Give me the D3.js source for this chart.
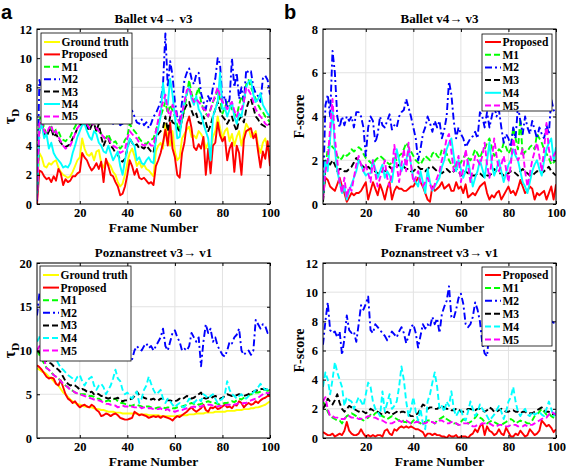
<!DOCTYPE html>
<html><head><meta charset="utf-8">
<script src="https://cdn.jsdelivr.net/npm/d3@7"></script>
<style>body{margin:0;background:#fff}svg{display:block}</style>
</head><body>
<svg id="c" width="566" height="468"></svg>
<script>
// ---------- DATA (frames 2..100) ----------
const frames = d3.range(2, 101);
const xTicks = [20, 40, 60, 80, 100];
const legendA = ["Ground truth", "Proposed", "M1", "M2", "M3", "M4", "M5"];
const legendB = ["Proposed", "M1", "M2", "M3", "M4", "M5"];

// Panel a: Ballet v4->v3, tau_D
const a_GT = [1.0,3.5,3.2,2.6,2.5,2.8,2.7,2.9,3.0,2.5, 2.2,2.0,1.9,1.8,1.9,2.2,2.6,3.0,3.2,4.5, 3.8,3.4,3.3,3.5,3.0,3.6,3.7,2.8,2.5,3.0, 2.8,2.6,2.2,2.0,1.5,1.2,1.4,2.0,2.8,3.5, 3.8,3.3,2.6,2.9,2.5,2.7,2.4,2.3,2.1,1.9, 3.6,4.0,4.2,3.8,5.5,4.5,4.0,5.0,3.6,3.0, 3.2,4.5,4.8,5.1,5.3,4.6,4.7,4.5,5.0,4.8, 4.5,3.8,4.2,3.5,4.6,5.0,6.0,5.2,4.5,5.0, 5.2,4.3,4.8,4.0,4.6,5.0,4.0,4.8,5.5,5.2, 4.6,4.8,5.0,4.0,3.5,4.2,4.5,3.8,3.5];
const a_Prop = [0.0,2.3,2.2,1.9,1.7,1.8,1.5,1.9,1.6,2.4, 2.1,1.3,1.7,1.5,1.6,1.9,1.9,2.1,2.2,3.5, 3.2,3.0,2.6,2.3,2.5,2.8,2.4,2.9,1.5,3.1, 2.6,2.0,1.9,1.5,1.2,0.6,0.7,1.2,2.0,3.0, 2.6,2.0,2.4,1.8,1.7,1.8,1.6,1.4,1.5,1.3, 2.6,3.0,3.5,4.2,5.1,4.0,5.6,3.8,3.2,2.0, 1.8,3.5,4.2,5.5,6.0,5.2,3.9,3.7,4.1,3.8, 4.6,2.0,3.8,2.1,4.0,4.2,5.6,4.7,4.3,4.6, 3.0,3.8,4.2,2.2,4.0,3.5,2.0,4.4,5.0,5.1, 5.2,4.5,4.8,3.6,2.5,3.6,3.1,4.3,2.6];
const a_M1 = [0.8,5.8,6.0,5.2,4.8,5.0,5.3,4.9,5.1,5.0, 4.6,4.4,4.3,4.5,4.6,5.0,5.3,5.6,5.5,5.9, 6.0,5.6,5.4,5.8,5.5,5.0,5.2,4.8,4.6,4.5, 4.8,4.4,4.2,4.3,4.0,3.8,4.0,4.4,4.6,5.5, 5.2,5.0,4.8,4.5,4.3,4.2,4.1,4.3,4.4,4.5, 5.0,5.6,6.0,6.5,7.0,6.2,6.8,6.4,6.0,5.4, 5.0,5.8,6.5,7.5,8.5,7.6,7.0,7.5,8.0,7.0, 6.5,6.2,6.0,6.5,7.0,7.3,7.8,7.2,6.2,6.6, 7.0,6.8,6.5,6.2,6.0,6.8,7.4,7.0,8.2,8.5, 8.0,7.6,7.2,6.8,6.5,6.3,6.0,5.8,5.6];
const a_M2 = [0.2,8.5,7.8,7.0,7.5,7.0,6.8,7.2,7.0,6.5, 6.8,6.5,6.2,6.5,6.6,6.8,6.5,6.2,6.0,6.3, 6.5,6.2,6.0,6.4,6.2,6.0,5.8,5.9,5.6,5.8, 5.8,5.6,5.5,5.7,5.6,5.4,5.5,5.8,6.0,6.2, 6.4,6.0,5.6,5.5,5.8,5.4,5.6,5.2,5.5,6.0, 6.2,6.6,7.0,8.2,11.7,8.0,9.8,8.8,7.0,6.0, 5.5,7.0,8.5,9.0,9.3,8.6,8.2,8.9,9.0,7.6, 7.0,6.5,7.4,7.0,8.0,8.6,10.0,9.6,7.0,7.4, 6.6,7.2,10.0,8.0,9.0,7.2,8.0,7.0,9.2,9.0, 9.1,8.0,7.6,7.4,7.0,8.6,8.8,8.5,7.5];
const a_M3 = [0.5,5.0,5.5,4.8,4.6,5.0,5.2,4.6,4.8,4.5, 4.2,4.0,3.9,4.0,4.1,4.5,4.8,5.2,5.4,5.5, 5.6,5.3,5.0,5.4,5.5,5.0,5.5,4.6,4.0,4.4, 4.5,4.0,3.8,3.5,3.4,3.0,2.9,3.1,3.8,4.5, 4.2,4.0,4.1,3.8,3.9,3.8,4.0,3.8,3.6,3.5, 4.5,4.8,5.0,5.2,6.0,5.0,6.0,5.6,5.5,5.2, 5.0,5.8,6.5,6.8,7.0,6.4,6.0,6.2,5.6,5.5, 6.0,5.6,5.0,5.4,6.0,6.5,7.0,6.4,6.0,5.8, 5.5,5.8,6.0,5.4,5.0,5.8,6.0,5.6,6.5,7.0, 7.2,6.6,6.0,5.8,5.5,5.4,5.3,5.4,5.5];
const a_M4 = [0.5,5.0,5.5,4.5,4.8,3.8,4.2,3.5,3.2,3.0, 2.8,2.5,2.6,2.5,2.8,3.5,4.0,4.6,5.0,5.4, 5.5,5.0,4.6,4.4,5.0,4.8,4.2,4.0,3.6,3.5, 4.0,3.5,3.0,3.3,3.6,2.6,2.0,3.0,3.8,4.5, 4.2,4.0,3.0,3.2,2.8,2.7,3.0,3.2,2.9,2.8, 4.5,5.2,6.0,8.3,7.0,6.8,8.6,7.5,6.0,4.5, 4.6,6.0,7.0,7.6,8.0,7.2,6.8,7.4,6.5,6.2, 5.5,5.0,4.5,3.0,6.0,6.5,7.0,9.0,6.5,6.6, 6.0,6.5,7.0,6.0,5.5,6.2,6.0,7.0,8.0,8.4, 8.5,7.5,7.0,7.2,7.6,6.8,6.5,6.2,6.0];
const a_M5 = [0.3,5.5,5.8,5.0,4.8,5.2,5.4,4.8,5.0,4.6, 4.3,4.0,3.8,3.9,4.0,4.4,4.8,5.2,5.4,5.6, 5.8,5.5,5.2,5.4,5.6,5.2,5.0,4.8,4.6,4.4, 4.5,4.2,4.0,3.9,3.8,3.5,3.6,3.7,4.5,5.0, 4.8,4.6,4.5,4.2,4.1,4.0,4.1,4.2,4.0,4.0, 5.0,5.8,6.5,7.0,7.5,6.4,6.0,6.8,6.5,6.0, 5.5,6.2,7.0,7.8,8.0,7.4,7.0,7.2,7.0,6.8, 6.5,6.4,6.0,6.5,7.0,7.5,8.0,7.4,7.0,6.8, 6.5,6.8,7.0,6.4,6.0,6.5,6.5,7.0,8.0,7.8, 7.5,7.0,6.5,6.2,6.0,5.8,5.5,5.4,5.3];

// Panel b: Ballet v4->v3, F-score
const b_Prop = [0.3,1.2,1.1,0.8,0.7,0.6,0.9,1.2,0.8,0.5, 0.1,0.3,0.5,0.4,0.5,0.5,0.6,0.8,1.0,0.2, 0.6,1.0,0.7,0.4,0.9,0.6,0.2,0.7,1.0,0.2, 0.6,0.8,0.7,0.7,0.6,0.6,0.7,0.8,0.8,1.0, 1.2,1.0,0.8,0.5,0.2,0.1,0.8,0.6,0.7,0.8, 1.0,0.7,0.8,0.9,0.6,0.6,1.0,0.7,0.8,0.5, 0.9,0.3,0.4,0.5,0.4,0.6,0.8,0.9,1.0,0.5, 0.2,0.4,0.3,0.5,0.6,0.2,0.4,0.6,0.8,0.5, 0.6,0.4,0.7,1.1,0.8,0.5,0.6,0.8,0.7,0.2, 0.5,0.4,0.5,0.6,0.2,0.5,0.8,0.2,0.9];
const b_M1 = [0.1,1.8,2.5,2.8,2.6,2.5,2.2,2.0,2.1,2.3, 2.2,2.3,2.5,2.4,2.5,2.6,2.5,2.3,2.1,2.0, 1.9,1.8,2.0,2.1,2.2,2.1,2.0,1.9,1.8,1.9, 2.1,2.0,2.2,2.3,2.5,2.8,2.6,2.4,2.2,2.0, 1.9,1.8,2.0,2.2,2.1,2.0,2.3,2.4,2.2,2.1, 2.5,2.4,2.3,2.0,1.8,1.7,1.8,1.7,1.9,2.1, 2.3,2.1,2.0,2.2,2.5,2.3,2.1,2.4,2.5,2.8, 3.0,2.6,2.2,2.3,2.5,2.4,2.8,2.6,2.3,2.5, 3.5,3.0,2.5,3.9,2.2,2.4,2.4,2.6,2.7,2.5, 3.2,3.0,2.8,2.5,2.3,2.1,1.8,1.9,2.0];
const b_M2 = [0.3,4.5,5.0,4.0,7.0,6.0,4.0,3.5,4.0,3.6, 4.0,3.8,4.0,3.5,4.2,4.2,4.0,3.5,2.2,3.5, 4.0,3.8,2.8,3.2,4.0,3.6,3.5,3.8,4.1,3.4, 3.6,3.5,4.0,4.2,4.3,4.8,4.4,4.0,3.5,3.0, 2.0,2.5,3.2,3.5,4.0,3.7,3.3,3.8,3.5,3.8, 3.0,3.4,4.0,5.6,5.0,3.8,3.0,3.5,3.2,3.0, 2.6,2.8,3.0,3.1,3.3,3.0,4.2,4.0,3.5,4.2, 3.5,4.0,4.5,4.0,4.3,3.5,2.8,3.2,3.0,2.6, 3.5,3.0,4.5,3.8,3.2,4.0,3.5,3.2,3.8,3.4, 3.0,3.5,3.2,3.0,3.6,3.2,4.8,4.3,4.1];
const b_M3 = [0.1,1.7,2.0,1.8,2.0,1.8,1.5,1.6,1.6,1.5, 1.5,1.6,1.7,1.9,2.1,2.0,1.8,1.7,1.6,1.7, 1.6,1.5,1.5,1.4,1.4,1.5,1.5,1.6,1.7,1.6, 1.6,1.7,1.8,1.7,1.7,1.6,1.6,1.5,1.5,1.6, 1.7,1.6,1.6,1.5,1.6,1.7,1.7,1.6,1.5,1.5, 1.4,1.5,1.6,1.5,1.4,1.5,1.6,1.5,1.3,1.4, 1.5,1.4,1.4,1.3,1.3,1.4,1.4,1.3,1.2,1.3, 1.3,1.4,1.6,1.5,1.4,1.4,1.3,1.4,1.4,1.5, 1.5,1.4,1.3,1.5,1.6,1.5,1.4,1.3,1.3,1.4, 1.5,1.5,1.4,1.5,1.6,1.7,1.5,1.4,1.3];
const b_M4 = [0.3,2.0,1.5,3.0,4.4,2.5,1.5,1.0,0.5,0.8, 0.2,0.6,0.9,1.2,1.5,2.0,1.8,1.5,1.3,1.4, 1.4,2.0,1.6,1.2,1.5,1.8,1.2,1.5,1.3,1.0, 1.8,2.5,2.0,1.5,1.8,2.0,2.5,1.8,1.2,1.0, 0.8,1.5,1.0,0.5,1.6,1.0,0.6,0.8,1.0,1.2, 1.7,2.0,2.5,2.8,3.0,2.2,1.5,2.0,1.6,1.2, 1.5,2.0,1.4,0.8,1.2,1.5,2.0,1.6,1.2,2.0, 2.8,1.8,1.3,1.6,2.0,1.5,1.0,1.4,1.8,2.0, 2.5,2.2,2.0,1.5,1.0,0.8,0.5,1.0,1.5,1.8, 2.0,1.6,1.3,2.0,2.5,2.8,3.0,2.0,2.6];
const b_M5 = [0.2,1.5,2.0,3.5,4.8,3.0,2.0,1.0,0.5,1.2, 0.3,0.8,0.6,1.2,1.8,2.2,1.8,1.5,1.8,1.4, 1.0,2.0,1.4,0.8,1.2,1.5,2.0,1.2,0.8,1.5, 2.7,1.8,1.0,1.8,2.5,1.5,2.8,1.8,1.0,1.2, 1.5,1.0,0.8,1.0,1.2,0.9,0.6,0.9,1.2,1.5, 2.0,2.4,3.0,3.2,2.4,1.5,1.8,2.2,1.0,1.6, 2.5,1.8,1.0,1.6,2.2,2.0,1.8,2.2,2.8,1.8, 1.2,2.0,3.0,2.2,1.5,1.8,2.2,1.6,1.0,1.8, 3.0,2.4,2.0,2.2,2.5,1.5,0.8,1.4,2.0,2.4, 2.8,2.2,1.5,2.5,3.7,2.5,2.0,2.2,2.4];

// Panel c: Poznanstreet v3->v1, tau_D
const c_GT = [8.0,7.8,7.6,7.5,7.3,7.0,6.8,6.5,6.2,6.0, 5.6,5.2,5.0,4.7,4.4,4.2,4.0,3.9,3.8,3.7, 3.6,3.6,3.5,3.5,3.4,3.3,3.3,3.2,3.2,3.1, 3.0,3.0,3.0,2.9,2.9,2.9,2.8,2.8,2.8,2.8, 2.8,2.8,2.8,2.7,2.7,2.7,2.7,2.6,2.6,2.6, 2.6,2.6,2.5,2.5,2.5,2.5,2.5,2.5,2.5,2.5, 2.6,2.6,2.6,2.6,2.7,2.7,2.7,2.8,2.8,2.8, 2.8,2.9,2.9,2.9,2.9,3.0,3.0,3.0,3.0,3.0, 3.1,3.1,3.1,3.1,3.2,3.2,3.2,3.3,3.3,3.3, 3.4,3.4,3.5,3.5,3.6,3.7,3.8,4.0,4.2];
const c_Prop = [8.3,8.1,7.8,7.4,7.0,6.8,6.9,6.8,6.2,6.0, 6.6,5.8,5.0,4.5,4.3,4.0,4.2,3.8,3.5,3.7, 3.8,3.6,3.5,3.8,3.6,3.2,3.0,2.5,2.6,2.8, 2.7,2.5,2.7,2.8,2.6,2.3,2.2,2.1,2.1,2.2, 2.3,3.0,2.8,2.6,2.7,2.6,2.5,2.3,2.4,2.5, 2.4,2.5,2.3,2.5,2.4,2.3,2.2,2.0,2.3,2.5, 2.4,2.6,2.8,3.0,3.3,3.5,3.2,3.0,3.2,3.4, 3.8,3.2,3.0,3.5,3.4,3.6,3.3,3.4,3.6,3.8, 3.5,3.6,3.4,3.8,3.7,4.2,4.0,3.5,3.8,4.0, 3.8,3.9,4.2,4.0,4.3,4.5,4.6,4.8,4.8];
const c_M1 = [10.0,9.5,9.0,8.5,8.0,7.8,7.5,7.2,7.0,6.8, 6.5,6.2,6.0,5.8,5.5,5.4,5.2,5.1,5.0,5.0, 5.0,4.9,4.8,4.8,4.7,4.5,4.5,4.3,4.2,4.2, 4.3,4.2,4.4,4.5,4.2,4.0,4.0,3.9,3.8,3.7, 3.7,3.8,3.8,3.7,3.6,3.5,3.6,3.6,3.5,3.4, 3.4,3.5,3.5,3.5,3.4,3.5,3.5,3.4,3.4,3.5, 3.5,3.6,3.7,3.8,3.9,4.0,3.9,4.0,3.8,3.9, 4.0,4.1,4.2,4.1,4.0,4.0,3.9,3.8,3.9,4.0, 4.0,4.1,4.2,4.1,4.3,4.5,4.4,4.6,4.8,4.9, 5.0,5.0,5.2,5.2,5.3,5.5,5.5,5.4,5.5];
const c_M2 = [14.0,16.5,17.0,16.5,16.0,15.5,15.0,14.5,14.0,13.5, 13.0,12.8,12.5,12.0,11.8,11.5,11.2,11.0,10.8,10.5, 10.5,10.2,10.0,10.2,9.8,9.8,9.6,9.5,9.6,9.4, 9.5,9.4,9.6,9.5,9.3,9.5,9.4,9.6,9.8,9.5, 9.0,10.0,10.5,10.2,10.0,10.5,10.8,10.3,10.5,10.0, 10.5,11.0,11.5,12.5,10.5,10.0,11.0,12.0,12.3,11.5, 11.0,10.0,10.2,10.0,10.5,12.0,11.5,11.0,11.5,8.2, 11.0,13.0,12.0,12.5,11.0,11.5,10.5,10.0,9.5,9.3, 10.0,11.0,10.8,11.5,11.8,12.5,10.0,9.5,9.8,10.0, 9.5,10.0,13.5,13.0,12.5,13.0,12.8,12.0,12.3];
const c_M3 = [10.0,9.8,9.5,9.0,8.8,8.6,8.5,8.2,8.0,7.8, 7.5,7.0,6.5,6.2,6.0,6.1,6.0,5.8,5.5,5.6, 5.5,5.3,5.2,5.3,5.0,5.1,5.0,4.8,4.8,4.6, 4.5,4.6,4.5,4.5,4.6,4.3,4.2,4.3,4.3,4.4, 4.5,4.8,5.3,4.9,4.8,4.6,4.5,4.5,4.4,4.5, 4.3,4.3,4.5,4.5,4.4,4.3,4.3,4.2,4.2,4.3, 4.5,4.4,4.6,4.8,4.7,4.5,4.6,4.8,5.0,5.2, 4.6,4.5,4.6,4.5,4.7,4.8,4.7,4.5,4.6,4.8, 5.0,4.9,4.8,4.8,4.9,5.0,4.9,4.8,4.9,5.0, 5.2,5.3,5.4,5.5,5.6,5.6,5.6,5.5,5.5];
const c_M4 = [11.0,11.5,12.2,11.5,11.0,10.5,10.0,9.5,9.0,8.5, 8.0,7.8,7.5,7.2,7.0,6.8,6.5,7.0,7.2,6.5, 6.0,6.5,6.8,7.0,6.0,5.5,6.0,6.2,5.8,5.0, 5.5,6.0,6.8,7.8,6.8,6.5,5.5,5.0,5.2,4.8, 4.5,5.0,5.3,4.0,4.5,5.5,6.0,7.0,6.2,5.5, 5.0,5.2,5.5,4.5,4.0,4.5,4.2,3.8,3.5,3.8, 4.0,3.6,3.5,4.0,4.5,4.2,4.0,4.3,4.5,4.2, 5.0,4.8,4.5,4.8,5.0,4.5,4.0,4.3,4.5,5.0, 6.5,5.5,5.0,4.8,4.5,4.8,5.0,4.6,4.5,4.8, 5.0,5.2,5.5,5.8,6.2,5.8,5.5,5.6,5.8];
const c_M5 = [10.0,10.5,9.5,9.0,8.0,7.8,7.5,7.2,7.0,6.8, 6.5,6.2,6.0,5.8,5.5,5.4,5.2,5.1,5.0,4.9, 4.8,4.7,4.6,4.5,4.4,4.3,4.3,4.2,4.0,3.9, 3.9,3.8,3.8,3.7,3.5,3.6,3.7,3.6,3.6,3.5, 3.6,3.5,3.5,3.6,3.4,3.5,3.5,3.4,3.4,3.3, 3.3,3.3,3.4,3.2,3.2,3.3,3.1,3.1,3.0,3.1, 3.2,3.2,3.3,3.4,3.5,3.5,3.6,3.5,3.6,3.6, 3.7,3.7,3.8,3.8,3.7,3.6,3.6,3.7,3.6,3.7, 3.8,3.8,3.7,3.8,3.9,4.0,3.9,4.0,4.0,4.2, 4.3,4.4,4.5,4.6,4.8,5.0,5.2,5.1,5.2];

// Panel d: Poznanstreet v3->v1, F-score
const d_Prop = [0.4,0.3,0.2,0.2,0.3,0.1,0.2,0.3,0.2,0.5, 1.1,0.5,0.3,0.2,0.2,0.3,0.6,0.3,0.1,0.2, 0.1,0.2,0.1,0.2,0.2,0.1,0.5,0.6,0.3,0.2, 0.6,0.5,0.7,0.8,0.7,0.8,0.7,0.8,0.7,0.6, 0.6,0.5,0.4,0.1,0.3,0.3,0.2,0.3,0.2,0.2, 0.1,0.1,0.0,0.2,0.1,0.1,0.2,0.0,0.1,0.1, 0.1,0.0,0.2,0.3,0.6,0.4,0.8,1.0,0.2,0.8, 0.5,0.4,0.2,0.3,0.6,0.3,0.2,0.7,0.4,0.1, 0.1,0.3,0.2,0.5,0.3,0.1,0.2,0.6,0.4,0.2, 0.3,0.5,1.2,1.0,0.8,0.9,0.7,0.4,0.6];
const d_M1 = [2.5,2.2,1.8,1.5,1.4,1.3,1.2,1.2,1.0,1.3, 1.5,1.6,1.7,1.6,1.5,1.4,1.3,1.2,1.3,1.4, 1.6,1.5,1.7,1.8,1.6,1.5,1.4,1.3,1.4,1.5, 1.4,1.3,1.2,1.3,1.1,1.1,1.0,1.0,1.2,1.3, 1.1,1.0,1.1,1.1,1.2,1.2,1.1,1.0,1.2,1.3, 1.4,1.5,1.3,1.2,1.1,1.0,1.0,0.9,1.1,1.3, 1.2,1.0,1.1,1.2,1.4,1.6,1.4,1.3,1.1,1.0, 1.1,1.2,1.1,1.0,0.9,0.9,1.0,1.1,1.2,1.3, 1.2,1.0,1.1,1.2,1.1,1.1,1.0,1.0,1.2,1.5, 1.6,1.8,2.0,1.8,1.6,1.7,1.5,1.4,1.3];
const d_M2 = [6.4,8.0,9.3,7.4,7.2,7.3,6.9,7.3,5.7,6.8, 8.4,7.4,7.2,7.3,6.6,7.8,9.1,8.8,9.2,9.7, 7.4,7.2,7.8,7.6,7.4,7.2,7.0,6.7,7.0,7.3, 7.1,6.9,7.3,7.6,7.2,6.5,7.0,7.6,7.8,7.2, 6.2,7.0,7.8,7.5,7.8,7.6,8.3,7.8,8.2,7.2, 8.5,9.0,9.4,10.4,8.3,8.2,8.8,9.6,9.9,9.2, 7.8,7.6,7.8,8.3,9.3,8.8,8.0,6.5,5.8,5.6, 7.4,8.0,8.5,8.2,7.6,8.0,8.6,8.2,7.8,8.4, 8.8,8.2,7.6,8.0,8.5,8.2,7.8,8.4,8.8,8.2, 7.8,8.4,8.8,8.6,9.2,8.6,8.0,7.9,8.1];
const d_M3 = [2.0,2.3,2.7,2.5,2.3,2.6,3.0,2.4,2.0,1.8, 2.0,2.2,2.1,2.0,1.9,1.8,1.9,1.8,1.7,1.8, 2.0,1.9,1.8,1.8,1.7,1.6,1.7,1.8,1.7,1.6, 1.7,1.8,1.7,1.8,1.8,1.7,1.6,1.5,1.5,1.6, 1.7,2.0,2.3,2.2,2.0,2.1,2.1,2.0,2.0,2.1, 2.2,2.1,2.0,2.0,1.9,1.9,2.0,2.0,1.8,1.8, 1.9,2.0,2.0,1.9,1.9,2.0,2.0,1.9,1.8,1.9, 2.1,2.0,1.8,1.8,1.9,2.0,1.9,1.8,1.8,1.9, 1.9,1.8,1.8,1.7,1.8,1.8,1.7,1.7,1.7,1.8, 1.9,2.0,2.1,1.9,1.8,1.8,1.7,1.6,1.6];
const d_M4 = [3.5,4.5,4.0,3.0,4.0,5.2,4.5,4.0,3.5,2.2, 2.8,2.6,2.5,2.0,2.4,2.8,2.5,2.2,3.0,3.8, 3.5,2.5,2.0,1.8,1.5,3.2,1.8,2.4,3.0,2.0, 2.2,2.5,3.5,4.9,4.0,2.5,1.5,2.0,2.8,1.8, 1.2,2.0,1.0,0.6,2.5,3.0,3.8,4.5,3.5,2.0, 2.2,1.8,2.5,2.2,3.2,2.0,1.5,1.8,2.0,1.4, 1.2,1.8,2.5,2.0,1.5,1.8,2.3,2.0,1.8,1.5, 1.2,1.4,1.6,1.9,2.2,1.8,1.3,1.8,2.5,2.8, 3.5,2.5,1.8,1.5,1.8,2.0,1.6,1.5,1.8,1.6, 1.7,1.8,1.6,1.5,2.0,2.5,2.0,1.5,1.8];
const d_M5 = [2.5,2.8,2.0,1.5,1.5,1.4,1.4,1.3,1.3,1.3, 1.5,1.5,1.4,1.4,1.4,1.3,1.3,1.4,1.4,1.5, 1.5,1.4,1.4,1.3,1.2,1.2,1.1,1.0,1.0,1.0, 1.1,1.1,1.2,1.1,1.2,1.2,1.1,1.0,1.0,1.1, 1.1,1.0,1.0,1.0,1.1,1.1,1.1,1.0,1.1,1.2, 1.2,1.1,1.0,1.0,1.1,1.1,1.0,0.9,0.9,1.0, 1.0,1.0,0.9,0.8,0.8,0.9,0.9,1.0,1.0,1.0, 1.0,0.9,0.8,0.8,0.9,0.9,0.8,0.8,0.8,0.9, 0.9,0.9,0.8,0.8,0.8,0.9,0.8,0.9,0.9,1.0, 1.1,1.2,1.3,1.4,1.4,1.6,1.8,1.7,1.6];

// ---------- STYLES ----------
const serif = "'Liberation Serif','Times New Roman',Times,serif";
const sty = {
  "Ground truth": {c: "#ffff00", d: null},
  "Proposed": {c: "#ff0000", d: null},
  "M1": {c: "#00ff00", d: "6,3"},
  "M2": {c: "#0000ff", d: "7,3,2,3"},
  "M3": {c: "#000000", d: "6,3"},
  "M4": {c: "#00ffff", d: null},
  "M5": {c: "#ff00ff", d: "6,3"}
};

const svg = d3.select("#c");
const defs = svg.append("defs");

const panels = [
  {id: "a", box: [37, 270, 29, 204], ymax: 12, yt: d3.range(0, 13, 2), title: "Ballet v4\u2192 v3", ylab: "tau",
   names: legendA, series: [a_GT, a_Prop, a_M1, a_M2, a_M3, a_M4, a_M5], m4dash: false,
   leg: {x: 41, y: 33, w: 91, h: 91, y0: 42, dy: 12.4}},
  {id: "b", box: [323, 556, 29, 204], ymax: 8, yt: d3.range(0, 9, 2), title: "Ballet v4\u2192 v3", ylab: "F-score",
   names: legendB, series: [b_Prop, b_M1, b_M2, b_M3, b_M4, b_M5], m4dash: false,
   leg: {x: 482, y: 34, w: 70, h: 77, y0: 42, dy: 12.7}},
  {id: "c", box: [37, 270, 263, 438], ymax: 20, yt: d3.range(0, 21, 5), title: "Poznanstreet v3\u2192 v1", ylab: "tau",
   names: legendA, series: [c_GT, c_Prop, c_M1, c_M2, c_M3, c_M4, c_M5], m4dash: true,
   leg: {x: 40, y: 266, w: 91, h: 95, y0: 275, dy: 12.6}},
  {id: "d", box: [323, 556, 263, 438], ymax: 12, yt: d3.range(0, 13, 2), title: "Poznanstreet v3\u2192 v1", ylab: "F-score",
   names: legendB, series: [d_Prop, d_M1, d_M2, d_M3, d_M4, d_M5], m4dash: true,
   leg: {x: 482, y: 267, w: 70, h: 79, y0: 275, dy: 12.9}}
];

panels.forEach(p => {
  const [L, R, T, B] = p.box;
  const x = d3.scaleLinear().domain([2, 100]).range([L, R]);
  const y = d3.scaleLinear().domain([0, p.ymax]).range([B, T]);
  const g = svg.append("g");

  // grid
  g.selectAll(null).data(xTicks).join("line")
    .attr("x1", d => x(d)).attr("x2", d => x(d)).attr("y1", T).attr("y2", B)
    .attr("stroke", "#e2e2e2").attr("stroke-width", 1);
  g.selectAll(null).data(p.yt).join("line")
    .attr("x1", L).attr("x2", R).attr("y1", d => y(d)).attr("y2", d => y(d))
    .attr("stroke", "#e2e2e2").attr("stroke-width", 1);

  // clip
  defs.append("clipPath").attr("id", "clip" + p.id)
    .append("rect").attr("x", L).attr("y", T).attr("width", R - L).attr("height", B - T);

  const line = d3.line().x((d, i) => x(frames[i])).y(d => y(d));
  const lg = g.append("g").attr("clip-path", `url(#clip${p.id})`);
  p.names.forEach((n, k) => {
    const s = sty[n];
    const dash = (n === "M4" && p.m4dash) ? "6,3" : s.d;
    lg.append("path").datum(p.series[k]).attr("d", line)
      .attr("fill", "none").attr("stroke", s.c).attr("stroke-width", 1.9)
      .attr("stroke-linejoin", "round")
      .attr("stroke-dasharray", dash);
  });

  // axes
  const fmt = d3.format("d");
  const ax = (gen, tr) => {
    const a = g.append("g").attr("transform", tr).call(gen);
    a.select(".domain").remove();
    a.selectAll("line").attr("stroke", "#000");
    a.selectAll("text").attr("font-family", serif).attr("font-weight", "bold")
      .attr("font-size", 12.5).attr("fill", "#000");
    return a;
  };
  ax(d3.axisBottom(x).tickValues(xTicks).tickSize(-3).tickPadding(4).tickFormat(fmt), `translate(0,${B})`);
  ax(d3.axisTop(x).tickValues(xTicks).tickSize(-3).tickFormat(""), `translate(0,${T})`);
  ax(d3.axisLeft(y).tickValues(p.yt).tickSize(-3).tickPadding(5).tickFormat(fmt), `translate(${L},0)`);
  ax(d3.axisRight(y).tickValues(p.yt).tickSize(-3).tickFormat(""), `translate(${R},0)`);

  // frame
  g.append("rect").attr("x", L).attr("y", T).attr("width", R - L).attr("height", B - T)
    .attr("fill", "none").attr("stroke", "#000").attr("stroke-width", 1);

  // title
  g.append("text").attr("x", (L + R) / 2).attr("y", T - 6).attr("text-anchor", "middle")
    .attr("font-family", serif).attr("font-weight", "bold").attr("font-size", 13)
    .text(p.title);

  // x label
  g.append("text").attr("x", (L + R) / 2).attr("y", B + 28).attr("text-anchor", "middle")
    .attr("font-family", serif).attr("font-weight", "bold").attr("font-size", 13.5)
    .text("Frame Number");

  // y label
  const cy = (T + B) / 2;
  if (p.ylab === "tau") {
    const t = g.append("text").attr("transform", `translate(${L - 22},${cy}) rotate(-90)`)
      .attr("text-anchor", "middle").attr("font-family", serif).attr("font-weight", "bold");
    t.append("tspan").attr("font-size", 16).text("\u03C4");
    t.append("tspan").attr("font-size", 11).attr("dy", 4).text("D");
  } else {
    g.append("text").attr("transform", `translate(${L - 19},${cy}) rotate(-90)`)
      .attr("text-anchor", "middle").attr("font-family", serif).attr("font-weight", "bold")
      .attr("font-size", 14).text("F-score");
  }

  // legend
  const lb = p.leg;
  const leg = g.append("g");
  leg.append("rect").attr("x", lb.x).attr("y", lb.y).attr("width", lb.w).attr("height", lb.h)
    .attr("fill", "#fff").attr("stroke", "#000").attr("stroke-width", 0.8);
  p.names.forEach((n, k) => {
    const s = sty[n];
    const dash = (n === "M4" && p.m4dash) ? "6,3" : s.d;
    const yy = lb.y0 + k * lb.dy;
    leg.append("line").attr("x1", lb.x + 3).attr("x2", lb.x + 19).attr("y1", yy).attr("y2", yy)
      .attr("stroke", s.c).attr("stroke-width", 2).attr("stroke-dasharray", dash);
    leg.append("text").attr("x", lb.x + 20.5).attr("y", yy + 4)
      .attr("font-family", serif).attr("font-weight", "bold").attr("font-size", 11.5)
      .text(n);
  });
});

// panel letters
svg.append("text").attr("x", 1).attr("y", 18.5).attr("font-family", "'Liberation Sans',Arial,sans-serif")
  .attr("font-weight", "bold").attr("font-size", 20).text("a");
svg.append("text").attr("x", 284).attr("y", 18.5).attr("font-family", "'Liberation Sans',Arial,sans-serif")
  .attr("font-weight", "bold").attr("font-size", 20).text("b");
</script>
</body></html>
